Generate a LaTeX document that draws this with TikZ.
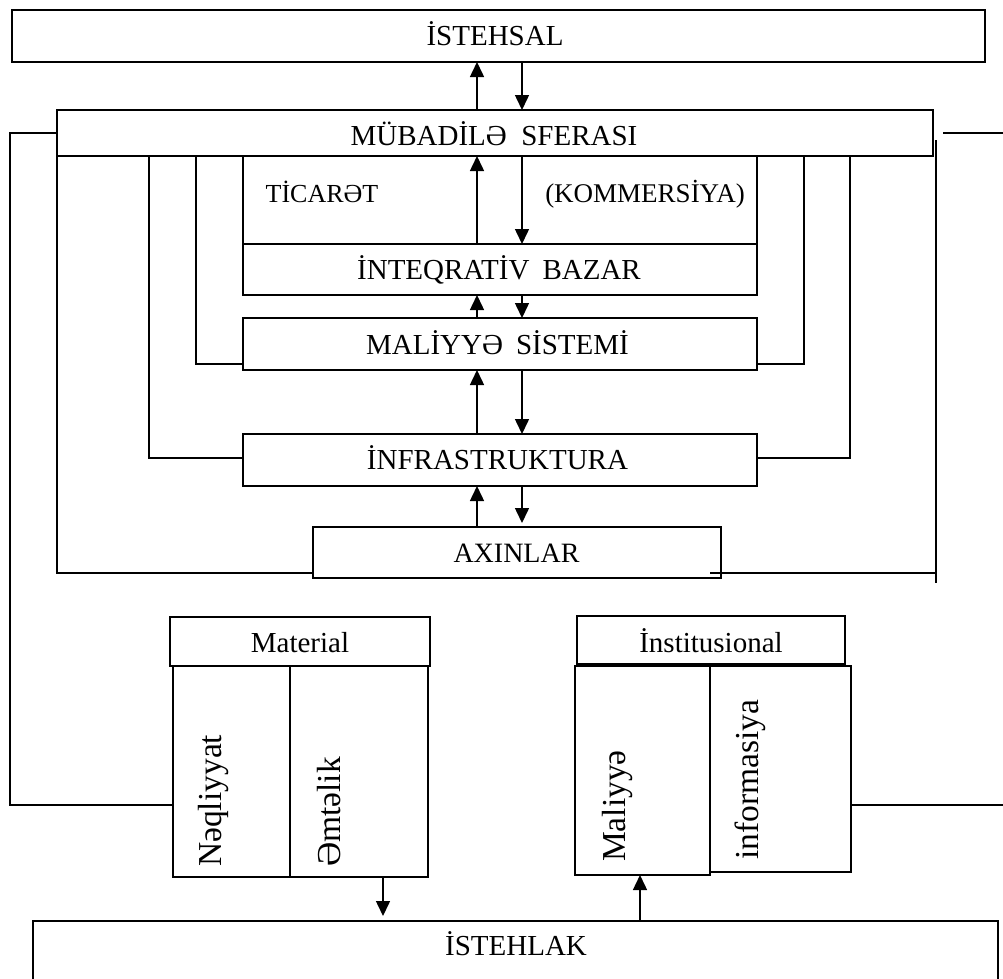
\documentclass[tikz,border=0pt]{standalone}
\usepackage{fontspec}
\setmainfont{Liberation Serif}
\usetikzlibrary{arrows.meta,calc}
\begin{document}
\begin{tikzpicture}[x=1pt,y=-1pt,
  box/.style={draw,line width=1.8pt,inner sep=0pt,outer sep=0pt},
  lbl/.style={inner sep=0pt,anchor=base,font=\fontsize{29}{31}\selectfont},
  vlbl/.style={inner sep=0pt,rotate=90,anchor=base west,font=\fontsize{33.5}{35}\selectfont},
  link/.style={line width=1.5pt},
  arr/.style={line width=1.5pt,-{Triangle[length=15pt,width=14pt]}}]
\useasboundingbox (0,0) rectangle (1003,978);
\clip (0,0) rectangle (1003,978);
% boxes
\node[box,minimum width=973pt,minimum height=52pt] (ist) at (498.5,36) {};
\node[box,minimum width=876pt,minimum height=46pt] (mub) at (495,133) {};
\node[box,minimum width=514pt,minimum height=88pt] (tic) at (500,200) {};
\node[box,minimum width=514pt,minimum height=51pt] (integ) at (500,269.5) {};
\node[box,minimum width=514pt,minimum height=52pt] (mal) at (500,344) {};
\node[box,minimum width=514pt,minimum height=52pt] (infra) at (500,460) {};
\node[box,minimum width=408pt,minimum height=51pt] (ax) at (517,552.5) {};
\node[box,minimum width=260pt,minimum height=49pt] (mat) at (300,641.5) {};
\node[box,minimum width=117pt,minimum height=211pt] (neq) at (231.5,771.5) {};
\node[box,minimum width=138pt,minimum height=211pt] (emt) at (359,771.5) {};
\node[box,minimum width=268pt,minimum height=48pt] (inst) at (711,640) {};
\node[box,minimum width=135pt,minimum height=209pt] (mlv) at (642.5,770.5) {};
\node[box,minimum width=141pt,minimum height=206pt] (inf) at (780.5,769) {};
\node[box,minimum width=965pt,minimum height=78pt] (istl) at (515.5,960) {};
% texts
\node[lbl] (tist) at (495,45) {İSTEHSAL};
\node[lbl] (tmub) at (494,145) {MÜBADİLƏ\hspace{0.5em}SFERASI};
\node[lbl,font=\fontsize{26}{28}\selectfont] (ttic) at (322,202) {TİCARƏT};
\node[lbl,font=\fontsize{27}{29}\selectfont] (tkom) at (645,202) {(KOMMERSİYA)};
\node[lbl] (tint) at (499,279) {İNTEQRATİV\hspace{0.45em}BAZAR};
\node[lbl] (tmal) at (497.5,354) {MALİYYƏ\hspace{0.45em}SİSTEMİ};
\node[lbl] (tinfra) at (497.5,469.5) {İNFRASTRUKTURA};
\node[lbl,font=\fontsize{28}{30}\selectfont] (tax) at (516.5,562) {AXINLAR};
\node[lbl] (tmat) at (300,652) {Material};
\node[lbl] (tinst) at (711,652) {İnstitusional};
\node[lbl] (tistl) at (516,955) {İSTEHLAK};
\node[vlbl] (tneq) at (221,867) {Nəqliyyat};
\node[vlbl] (temt) at (340,867) {Əmtəlik};
\node[vlbl] (tmlv) at (625,862) {Maliyyə};
\node[vlbl] (tinf) at (758,860) {informasiya};
% helper coordinates
\coordinate (aU) at (477,0);
\coordinate (aD) at (522,0);
\coordinate (aE) at (383,0);
\coordinate (aM) at (640,0);
\coordinate (xO) at (10,0);
\coordinate (x149) at (149,0);
\coordinate (x196) at (196,0);
\coordinate (x804) at (804,0);
\coordinate (x850) at (850,0);
\coordinate (yL) at (0,805);
\coordinate (yA) at (0,573);
\coordinate (yI) at (0,458);
\coordinate (yM) at (0,364);
\coordinate (rE) at (1003,133);
\coordinate (rV1) at (936,140);
\coordinate (rV2) at (936,583);
% arrows
\draw[arr] (mub.north -| aU) -- (ist.south -| aU);
\draw[arr] (ist.south -| aD) -- (mub.north -| aD);
\draw[arr] (integ.north -| aU) -- (mub.south -| aU);
\draw[arr] (mub.south -| aD) -- (integ.north -| aD);
\draw[arr] (mal.north -| aU) -- (integ.south -| aU);
\draw[arr] (integ.south -| aD) -- (mal.north -| aD);
\draw[arr] (infra.north -| aU) -- (mal.south -| aU);
\draw[arr] (mal.south -| aD) -- (infra.north -| aD);
\draw[arr] (ax.north -| aU) -- (infra.south -| aU);
\draw[arr,shorten >=4pt] (infra.south -| aD) -- (ax.north -| aD);
\draw[arr,shorten >=5pt] (emt.south -| aE) -- (istl.north -| aE);
\draw[arr] (istl.north -| aM) -- (mlv.south -| aM);
% connectors
\draw[link] (mub.west) -| (xO |- yL) -- (neq.west |- yL);
\draw[link] (mub.east -| rE) ++(-60,0) -- (rE);
\draw[link] (rV1) -- (rV2);
\draw[link] (mub.south west) -- (mub.south west |- yA) -- (ax.west |- yA);
\draw[link] (ax.east |- yA) ++(-11,0) -- (rV2 |- yA);
\draw[link] (mub.south -| x149) |- (infra.west |- yI);
\draw[link] (mub.south -| x196) |- (mal.west |- yM);
\draw[link] (mub.south -| x804) |- (mal.east |- yM);
\draw[link] (mub.south -| x850) |- (infra.east |- yI);
\draw[link] (inf.east |- yL) -- (rE |- yL);
\end{tikzpicture}
\end{document}
